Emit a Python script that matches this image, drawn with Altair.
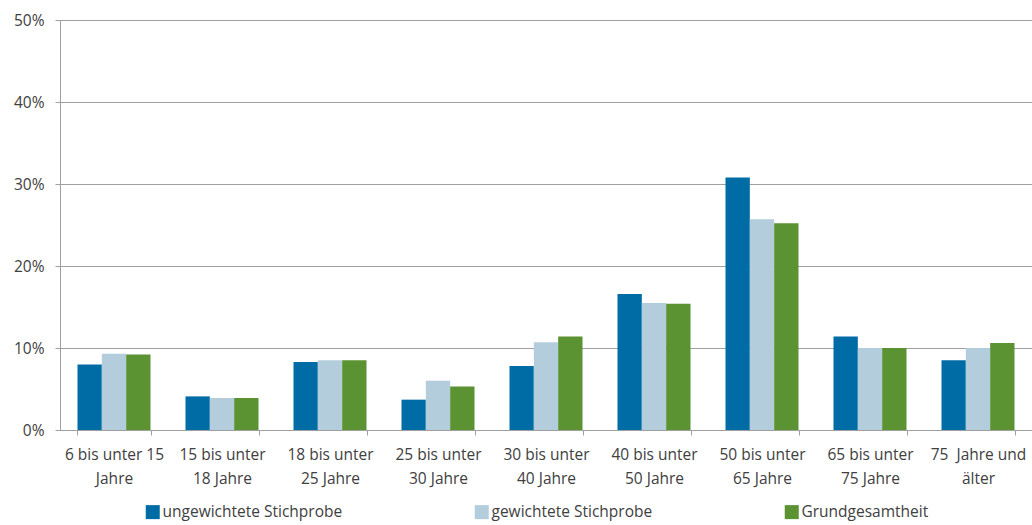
import altair as alt
import pandas as pd

categories = ["6 bis unter 15|Jahre", "15 bis unter|18 Jahre", "18 bis unter|25 Jahre",
              "25 bis unter|30 Jahre", "30 bis unter|40 Jahre", "40 bis unter|50 Jahre",
              "50 bis unter|65 Jahre", "65 bis unter|75 Jahre", "75\u00a0 Jahre und|älter"]
series = ["ungewichtete Stichprobe", "gewichtete Stichprobe", "Grundgesamtheit"]
ungewichtet = [8.0, 4.1, 8.3, 3.7, 7.8, 16.6, 30.8, 11.4, 8.5]
gewichtet = [9.3, 3.9, 8.5, 6.0, 10.7, 15.5, 25.7, 10.0, 10.0]
grund = [9.2, 3.9, 8.5, 5.3, 11.4, 15.4, 25.2, 10.0, 10.6]
colors = ["#006ca6", "#b4cddd", "#5b9232"]
y_ticks = [0, 10, 20, 30, 40, 50]

rows = []
for vals, s in zip([ungewichtet, gewichtet, grund], series):
    for c, v in zip(categories, vals):
        rows.append({"Kategorie": c, "Serie": s, "Wert": v})
df = pd.DataFrame(rows)

FONT = "Open Sans"
TXT = "#404040"
GRID = "#a0a0a0"
FS = 15.5

chart = alt.Chart(df).mark_bar().encode(
    x=alt.X("Kategorie:N", sort=categories, title=None,
            scale=alt.Scale(paddingInner=0.324, paddingOuter=0.162),
            axis=alt.Axis(labelExpr="split(datum.label, '|')", labelAngle=0,
                          tickBand="extent", tickSize=5, tickColor=GRID,
                          domainColor=GRID, labelPadding=12, labelLineHeight=24,
                          labelFontSize=FS, labelColor=TXT, labelFont=FONT,
                          labelLimit=200, grid=False)),
    xOffset=alt.XOffset("Serie:N", sort=series,
                        scale=alt.Scale(paddingInner=0, paddingOuter=0)),
    y=alt.Y("Wert:Q", title=None,
            scale=alt.Scale(domain=[0, 50], nice=False),
            axis=alt.Axis(values=y_ticks, labelExpr="datum.value + '%'",
                          grid=True, gridColor=GRID, domainColor=GRID,
                          tickColor=GRID, tickSize=5, labelPadding=11,
                          labelFontSize=FS, labelColor=TXT, labelFont=FONT)),
    color=alt.Color("Serie:N", sort=series,
                    scale=alt.Scale(domain=series, range=colors),
                    legend=alt.Legend(title=None, orient="none", legendX=85, legendY=484,
                                      direction="horizontal", columns=3,
                                      symbolType="square", symbolSize=196,
                                      symbolStrokeWidth=0, labelFontSize=FS,
                                      labelFont=FONT, labelColor=TXT, labelOffset=2,
                                      columnPadding=131, gridAlign="each",
                                      labelLimit=300)),
).properties(
    width=972, height=410,
    padding={"left": 60, "top": 20, "right": 0, "bottom": 95},
    autosize=alt.AutoSizeParams(type="none"),
).configure_view(stroke=None)

chart.save("out.html", embed_options={"renderer": "svg", "actions": False})
